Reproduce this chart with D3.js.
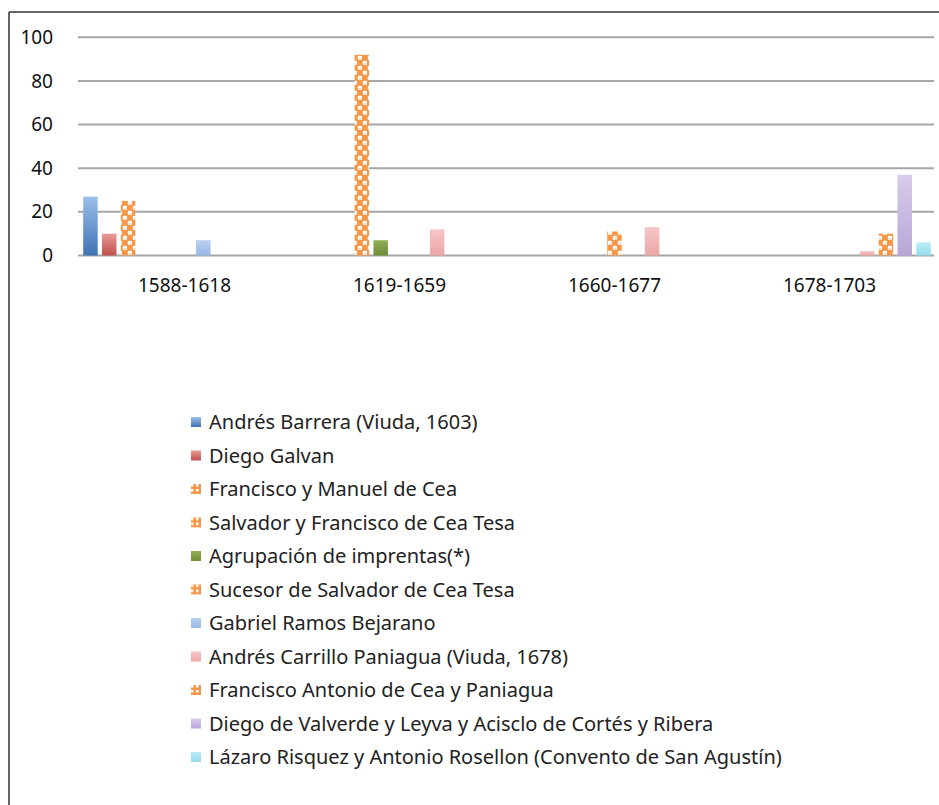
<!DOCTYPE html>
<html>
<head>
<meta charset="utf-8">
<script src="https://cdn.jsdelivr.net/npm/d3@7"></script>
<style>
body { margin: 0; background: #fff; }
svg { display: block; font-family: "Noto Sans", "Open Sans", sans-serif; }
</style>
</head>
<body>
<svg width="939" height="805"></svg>
<script>
var periods = ["1588-1618", "1619-1659", "1660-1677", "1678-1703"];

var printers = [
	"Andrés Barrera (Viuda, 1603)",
	"Diego Galvan",
	"Francisco y Manuel de Cea",
	"Salvador y Francisco de Cea Tesa",
	"Agrupación de imprentas(*)",
	"Sucesor de Salvador de Cea Tesa",
	"Gabriel Ramos Bejarano",
	"Andrés Carrillo Paniagua (Viuda, 1678)",
	"Francisco Antonio de Cea y Paniagua",
	"Diego de Valverde y Leyva y Acisclo de Cortés y Ribera",
	"Lázaro Risquez y Antonio Rosellon (Convento de San Agustín)"
];

// one array per period, one value per printer
var v1588 = [27, 10, 25, 0, 0, 0, 7, 0, 0, 0, 0];
var v1619 = [0, 0, 0, 92, 7, 0, 0, 12, 0, 0, 0];
var v1660 = [0, 0, 0, 0, 0, 11, 0, 13, 0, 0, 0];
var v1678 = [0, 0, 0, 0, 0, 0, 0, 2, 10, 37, 6];
var values = [v1588, v1619, v1660, v1678];

var yTicks = [0, 20, 40, 60, 80, 100];

// colour top / bottom of the gradient, or "pat" for the orange hatch
var fills = [
	["#9cc0ea", "#3d72b4"],
	["#e89a98", "#c0504d"],
	"pat",
	"pat",
	["#8fae55", "#6e8d35"],
	"pat",
	["#b9d0f0", "#9ab8e6"],
	["#f6c6c6", "#eda6a6"],
	"pat",
	["#d8cbec", "#b9a6d8"],
	["#b9ecf6", "#96dcee"]
];

var svg = d3.select("svg");
var defs = svg.append("defs");

fills.forEach(function(f, i) {
	if (f === "pat") return;
	var g = defs.append("linearGradient")
		.attr("id", "g" + i)
		.attr("x1", 0).attr("y1", 0).attr("x2", 0).attr("y2", 1);
	g.append("stop").attr("offset", "0%").attr("stop-color", f[0]);
	g.append("stop").attr("offset", "100%").attr("stop-color", f[1]);
});

var pat = defs.append("pattern")
	.attr("id", "pat")
	.attr("patternUnits", "userSpaceOnUse")
	.attr("width", 10).attr("height", 10);
pat.append("rect").attr("width", 10).attr("height", 10).attr("fill", "#f79646");
pat.append("rect").attr("x", 0.8).attr("y", 0.8).attr("width", 4.2).attr("height", 4.2).attr("rx", 1).attr("fill", "#fff");
pat.append("rect").attr("x", 5.8).attr("y", 5.8).attr("width", 4.2).attr("height", 4.2).attr("rx", 1).attr("fill", "#fff");
pat.append("circle").attr("cx", 2.9).attr("cy", 3.8).attr("r", 0.9).attr("fill", "#fbc08f");
pat.append("circle").attr("cx", 7.9).attr("cy", 8.8).attr("r", 0.9).attr("fill", "#fbc08f");

var smallPat = defs.append("pattern")
	.attr("id", "spat")
	.attr("patternUnits", "userSpaceOnUse")
	.attr("width", 5).attr("height", 5);
smallPat.append("rect").attr("width", 5).attr("height", 5).attr("fill", "#f79646");
smallPat.append("rect").attr("x", 0).attr("y", 0).attr("width", 2.5).attr("height", 2.5).attr("fill", "#fff");

function fillOf(i) {
	return fills[i] === "pat" ? "url(#pat)" : "url(#g" + i + ")";
}

// frame
svg.append("line").attr("x1", 9).attr("x2", 939).attr("y1", 12).attr("y2", 12)
	.attr("stroke", "#333").attr("stroke-width", 1.5);
svg.append("line").attr("x1", 9).attr("x2", 9).attr("y1", 12).attr("y2", 805)
	.attr("stroke", "#333").attr("stroke-width", 1.5);

var x0 = d3.scaleBand().domain(periods).range([77, 937]);
var x1 = d3.scaleBand().domain(d3.range(printers.length))
	.range([0, x0.bandwidth()]).paddingInner(0.23).paddingOuter(0.33);
var y = d3.scaleLinear().domain([0, 100]).range([255.5, 37.3]);

// grid
svg.append("g").selectAll("line")
	.data(yTicks)
	.enter().append("line")
	.attr("x1", 78).attr("x2", 934)
	.attr("y1", function(d) { return y(d); })
	.attr("y2", function(d) { return y(d); })
	.attr("stroke", "#a6a6a6")
	.attr("stroke-width", 2);

var yAxis = svg.append("g")
	.attr("transform", "translate(53,0)")
	.call(d3.axisLeft(y).tickValues(yTicks).tickSize(0).tickPadding(0));
yAxis.select(".domain").remove();
yAxis.selectAll("text")
	.style("font-size", "19px")
	.attr("fill", "#111")
	.style("font-family", "\"Noto Sans\", sans-serif");

var xAxis = svg.append("g")
	.attr("transform", "translate(0,278)")
	.call(d3.axisBottom(x0).tickSize(0).tickPadding(0));
xAxis.select(".domain").remove();
xAxis.selectAll("text")
	.style("font-size", "19px")
	.attr("fill", "#111")
	.style("font-family", "\"Noto Sans\", sans-serif");

// bars
var groups = svg.append("g").selectAll("g")
	.data(values)
	.enter().append("g")
	.attr("transform", function(d, i) { return "translate(" + x0(periods[i]) + ",0)"; });

groups.selectAll("rect")
	.data(function(d) { return d.map(function(v, i) { return {i: i, v: v}; }).filter(function(o) { return o.v > 0; }); })
	.enter().append("rect")
	.attr("x", function(d) { return x1(d.i); })
	.attr("width", x1.bandwidth())
	.attr("y", function(d) { return y(d.v); })
	.attr("height", function(d) { return y(0) - y(d.v); })
	.attr("fill", function(d) { return fillOf(d.i); });

// legend
var legend = svg.append("g").selectAll("g")
	.data(printers)
	.enter().append("g")
	.attr("transform", function(d, i) { return "translate(191," + (422 + i * 33.5) + ")"; });

legend.append("rect")
	.attr("x", 0).attr("y", -5)
	.attr("width", 10).attr("height", 10)
	.attr("fill", function(d, i) { return fills[i] === "pat" ? "url(#spat)" : "url(#g" + i + ")"; });

legend.append("text")
	.attr("x", 18)
	.attr("dy", "0.35em")
	.style("font-size", "20px")
	.attr("fill", "#222")
	.text(function(d) { return d; });
</script>
</body>
</html>
